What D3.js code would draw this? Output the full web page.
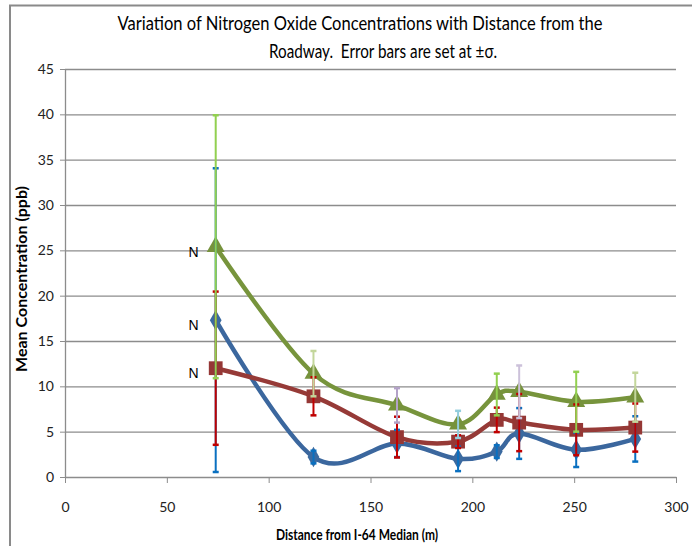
<!DOCTYPE html>
<html>
<head>
<meta charset="utf-8">
<script src="https://cdn.jsdelivr.net/npm/d3@7"></script>
<style>
  html, body { margin: 0; padding: 0; background: #fff; }
  svg { display: block; }
</style>
</head>
<body>
<div id="chart"></div>
<script>
// ---- data ----
var distances = [74, 122, 163, 193, 212, 223, 251, 280];
var xTicks = [0, 50, 100, 150, 200, 250, 300];
var yTicks = [0, 5, 10, 15, 20, 25, 30, 35, 40, 45];

var blueMeans  = [17.3, 2.2, 3.7, 2.0, 2.8, 4.8, 3.0, 4.2];
var blueSigma  = [16.75, 0.7, 1.5, 1.35, 0.7, 2.8, 1.9, 2.5];
var redMeans   = [12.0, 8.9, 4.4, 3.9, 6.3, 6.0, 5.2, 5.45];
var redSigma   = [8.45, 2.1, 2.25, 0.7, 1.35, 3.15, 2.8, 2.65];
var greenMeans = [25.4, 11.4, 7.9, 5.8, 9.1, 9.4, 8.3, 8.8];
var greenSigma = [14.5, 2.5, 1.9, 1.5, 2.3, 2.9, 3.3, 2.7];
// first point of each series carries an "N" data label
var pointLabels = ["N", "", "", "", "", "", "", ""];

var titleLines = ["Variation of Nitrogen Oxide Concentrations with Distance from the",
                  "Roadway.  Error bars are set at \u00b1\u03c3."];

var drawChart = function(){

    // Sizes & style
    const width = 692, height = 546;
    const left = 65, right = 676, top = 69, bottom = 477;
    var font = 'Lato, "Open Sans", sans-serif';
    var gridColor = '#8c8c8c';

    // per-point error bar colours of the green series (Excel custom formatting)
    var greenErrColors = ["#92d050", "#c3d69b", "#b3a2c7", "#93cddd", "#92d050", "#ccc1da", "#92d050", "#c3d69b"];

    var series = [
        {means: blueMeans,  sigma: blueSigma,  line: "#3b679e", marker: "#3b6aa0", symbol: d3.symbolDiamond,  size: 120, err: () => "#0a70c0"},
        {means: redMeans,   sigma: redSigma,   line: "#963a37", marker: "#953735", symbol: d3.symbolSquare,   size: 190, err: () => "#c00000"},
        {means: greenMeans, sigma: greenSigma, line: "#77943c", marker: "#76923c", symbol: d3.symbolTriangle, size: 140, err: (i) => greenErrColors[i]}
    ];

    var svg = d3.select('#chart')
        .append('svg')
        .attr('width', width)
        .attr('height', height)
        .style('font-family', font);

    // squeeze text to the width it has in the reference (Calibri is narrow)
    function fitWidth(sel, w) {
        var natural = sel.node().getComputedTextLength();
        if (natural > w) sel.attr('textLength', w).attr('lengthAdjust', 'spacingAndGlyphs');
        return natural;
    }

    // chart area border (only left & top visible in the crop)
    svg.append('rect')
        .attr('x', 10).attr('y', 5.5)
        .attr('width', 700).attr('height', 600)
        .attr('fill', 'none')
        .attr('stroke', '#8a8a8a')
        .attr('stroke-width', 2);

    var x = d3.scaleLinear().domain([0, 300]).range([left, right]);
    var y = d3.scaleLinear().domain([0, 45]).range([bottom, top]);

    // gridlines
    svg.append('g')
        .attr('transform', 'translate(' + left + ',0)')
        .call(d3.axisLeft(y).tickValues(yTicks.slice(1)).tickSize(-(right - left)).tickFormat(''))
        .call(g => g.select('.domain').remove())
        .call(g => g.selectAll('.tick line').attr('stroke', gridColor).attr('stroke-width', 1.3));

    // y axis
    svg.append('g')
        .attr('transform', 'translate(' + left + ',0)')
        .call(d3.axisLeft(y).tickValues(yTicks).tickSize(5).tickSizeOuter(0).tickPadding(6))
        .call(g => g.select('.domain').attr('stroke', gridColor).attr('stroke-width', 1.3))
        .call(g => g.selectAll('.tick line').attr('stroke', gridColor))
        .call(g => g.selectAll('.tick text').attr('fill', '#222').attr('font-size', 14).attr('font-family', font));

    // x axis
    svg.append('g')
        .attr('transform', 'translate(0,' + bottom + ')')
        .call(d3.axisBottom(x).tickValues(xTicks).tickSize(6).tickSizeOuter(0).tickPadding(19))
        .call(g => g.select('.domain').attr('stroke', gridColor).attr('stroke-width', 1.3))
        .call(g => g.selectAll('.tick line').attr('stroke', gridColor))
        .call(g => g.selectAll('.tick text').attr('fill', '#222').attr('font-size', 14).attr('font-family', font));

    // title
    var t1 = svg.append('text')
        .attr('x', 360).attr('y', 30)
        .attr('text-anchor', 'middle')
        .attr('font-size', 18.5)
        .style('white-space', 'pre')
        .text(titleLines[0]);
    fitWidth(t1, 485);
    var t2 = svg.append('text')
        .attr('x', 383).attr('y', 58)
        .attr('text-anchor', 'middle')
        .attr('font-size', 18.5)
        .style('white-space', 'pre')
        .text(titleLines[1]);
    fitWidth(t2, 228);

    // axis titles
    var yt = svg.append('text')
        .attr('transform', 'translate(27,279) rotate(-90)')
        .attr('text-anchor', 'middle')
        .attr('font-size', 16)
        .attr('font-weight', 'bold')
        .text('Mean Concentration (ppb)');
    fitWidth(yt, 211);

    var xt = svg.append('text')
        .attr('x', 357).attr('y', 540)
        .attr('text-anchor', 'middle')
        .attr('font-size', 15)
        .attr('font-weight', 'bold')
        .text('Distance from I-64 Median (m)');
    fitWidth(xt, 162);

    // smoothed lines
    var line = d3.line()
        .x((d, i) => x(distances[i]))
        .y(d => y(d))
        .curve(d3.curveCardinal.tension(0));

    svg.append('g').selectAll('path')
        .data(series)
        .join('path')
        .attr('d', s => line(s.means))
        .attr('fill', 'none')
        .attr('stroke', s => s.line)
        .attr('stroke-width', 4.5)
        .attr('stroke-linejoin', 'round');

    // markers
    series.forEach(function(s){
        svg.append('g').selectAll('path')
            .data(s.means)
            .join('path')
            .attr('transform', (d, i) => 'translate(' + x(distances[i]) + ',' + y(d) + ')')
            .attr('d', d3.symbol().type(s.symbol).size(s.size))
            .attr('fill', s.marker);
    });

    // error bars (+/- sigma), drawn over the markers
    series.forEach(function(s){
        var g = svg.append('g');
        s.means.forEach(function(m, i){
            var cx = x(distances[i]);
            var c = s.err(i);
            var y1 = y(m + s.sigma[i]), y2 = y(Math.max(0, m - s.sigma[i]));
            g.append('line')
                .attr('x1', cx).attr('x2', cx)
                .attr('y1', y1).attr('y2', y2)
                .attr('stroke', c).attr('stroke-width', 2);
            [y1, y2].forEach(function(yy){
                g.append('line')
                    .attr('x1', cx - 3).attr('x2', cx + 3)
                    .attr('y1', yy).attr('y2', yy)
                    .attr('stroke', c).attr('stroke-width', 2.5);
            });
        });
    });

    // "N" data labels
    series.forEach(function(s){
        svg.append('g').selectAll('text')
            .data(s.means.map((m, i) => ({m: m, i: i, label: pointLabels[i]})).filter(d => d.label))
            .join('text')
            .attr('x', d => x(distances[d.i]) - 17)
            .attr('y', d => y(d.m) + 10)
            .attr('text-anchor', 'end')
            .attr('font-size', 14)
            .attr('font-family', '"Liberation Sans", Arial, sans-serif')
            .text(d => d.label);
    });
}

window.addEventListener("load", drawChart)
</script>
</body>
</html>
